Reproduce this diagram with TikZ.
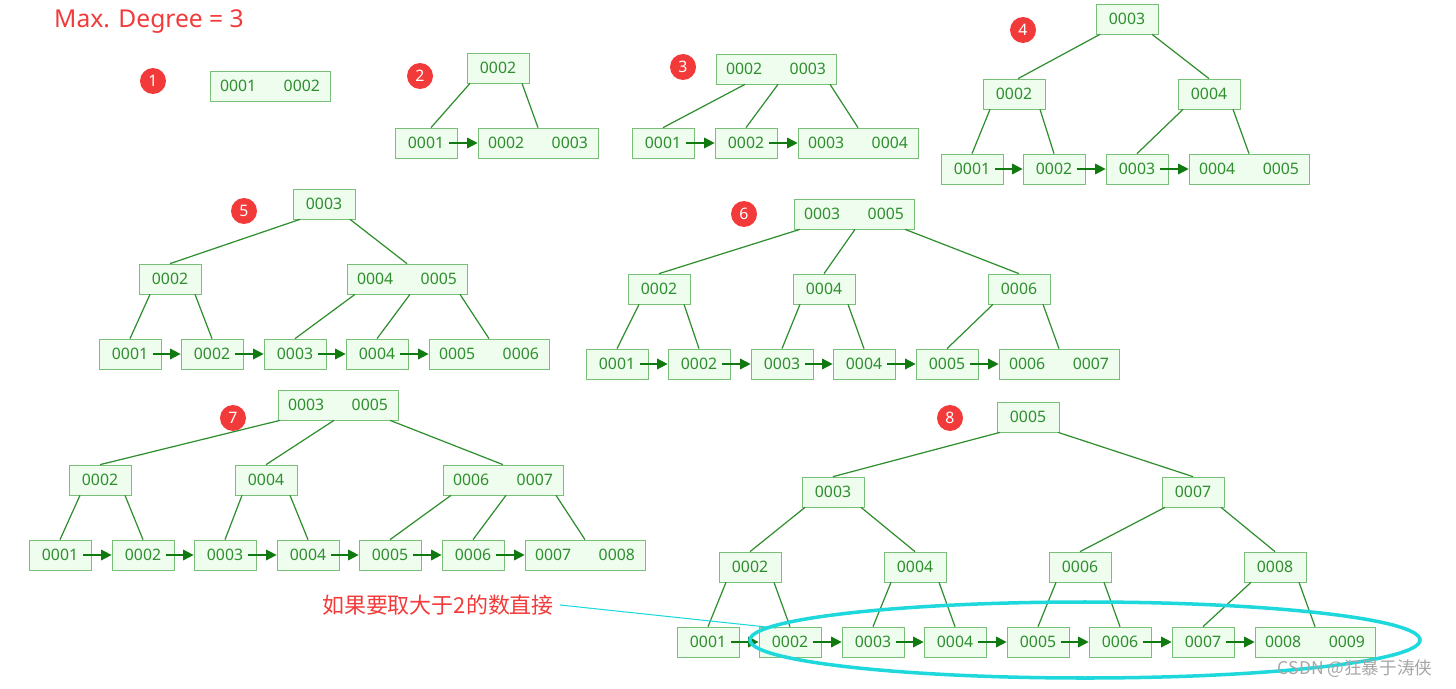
\documentclass[tikz,border=0pt]{standalone}
\usepackage{fontspec}
\setmainfont{Noto Sans}
\newfontfamily\cjk{Noto Sans CJK SC}
\usetikzlibrary{calc,arrows.meta}
\definecolor{kfill}{HTML}{EEFDEE}
\definecolor{kline}{HTML}{78C078}
\definecolor{ktext}{HTML}{2F8F2F}
\definecolor{karrow}{HTML}{107A10}
\definecolor{kred}{HTML}{F23A3A}
\definecolor{kcyan}{HTML}{1ED8DC}
\tikzset{
    kbox/.style={draw=kline, fill=kfill, text=ktext, minimum width=1.24cm,
        minimum height=0.6cm, inner sep=0pt, font=\fontsize{9}{10}\selectfont},
    kdbl/.style={kbox, minimum width=2.4cm},
    tie/.style={draw=ktext, line width=0.7pt},
    nxt/.style={draw=karrow, line width=0.9pt, -{Triangle[length=6pt,width=6pt]}},
    badge/.style={circle, fill=kred, text=white, minimum size=0.52cm, inner sep=0pt,
        font=\fontsize{9}{10}\selectfont},
}
\newcommand\pair[2]{#1\hspace{0.55cm}#2}
\begin{document}
\begin{tikzpicture}[x=0.02cm, y=-0.02cm]
    \useasboundingbox (0,0) rectangle (1456,689);
    \node[text=kred, anchor=west, font=\fontsize{14}{16}\selectfont] (title) at (48,22) {Max. Degree = 3};

    % 1
    \node[badge] (b1) at (153,81) {1};
    \node[kdbl] (t1) at (270,86) {\pair{0001}{0002}};

    % 2
    \node[badge] (b2) at (420,76) {2};
    \node[kbox] (t2r) at (498,68) {0002};
    \node[kbox] (t2a) at (426,143) {0001};
    \node[kdbl] (t2b) at (538,143) {\pair{0002}{0003}};
    \draw[tie] ($(t2r.south)+(-28,0)$) -- ($(t2a.north)+(5,0)$);
    \draw[tie] ($(t2r.south)+(24,0)$) -- (t2b.north);

    % 3
    \node[badge] (b3) at (683,67) {3};
    \node[kdbl] (t3r) at (776,69) {\pair{0002}{0003}};
    \node[kbox] (t3a) at (663,143) {0001};
    \node[kbox] (t3b) at (746,143) {0002};
    \node[kdbl] (t3c) at (858,143) {\pair{0003}{0004}};
    \draw[tie] ($(t3r.south)+(-31,0)$) -- (t3a.north);
    \draw[tie] ($(t3r.south)+(2,0)$) -- (t3b.north);
    \draw[tie] ($(t3r.south)+(54,0)$) -- (t3c.north);

    % 4
    \node[badge] (b4) at (1023,30) {4};
    \node[kbox] (t4r) at (1127,19) {0003};
    \node[kbox] (t4p) at (1014,94) {0002};
    \node[kbox] (t4q) at (1209,94) {0004};
    \node[kbox] (t4a) at (972,169) {0001};
    \node[kbox] (t4b) at (1054,169) {0002};
    \node[kbox] (t4c) at (1137,169) {0003};
    \node[kdbl] (t4d) at (1249,169) {\pair{0004}{0005}};
    \draw[tie] ($(t4r.south)+(-27,0)$) -- ($(t4p.north)+(4,0)$);
    \draw[tie] ($(t4r.south)+(25,0)$) -- (t4q.north);
    \draw[tie] ($(t4p.south)+(-24,0)$) -- (t4a.north);
    \draw[tie] ($(t4p.south)+(26,0)$) -- (t4b.north);
    \draw[tie] ($(t4q.south)+(-26,0)$) -- (t4c.north);
    \draw[tie] ($(t4q.south)+(24,0)$) -- (t4d.north);

    % 5
    \node[badge] (b5) at (244,211) {5};
    \node[kbox] (t5r) at (324,204) {0003};
    \node[kbox] (t5p) at (170,279) {0002};
    \node[kdbl] (t5q) at (407,279) {\pair{0004}{0005}};
    \node[kbox] (t5a) at (130,354) {0001};
    \node[kbox] (t5b) at (212,354) {0002};
    \node[kbox] (t5c) at (295,354) {0003};
    \node[kbox] (t5d) at (377,354) {0004};
    \node[kdbl] (t5e) at (489,354) {\pair{0005}{0006}};
    \draw[tie] ($(t5r.south)+(-24,0)$) -- (t5p.north);
    \draw[tie] ($(t5r.south)+(26,0)$) -- (t5q.north);
    \draw[tie] ($(t5p.south)+(-20,0)$) -- (t5a.north);
    \draw[tie] ($(t5p.south)+(25,0)$) -- (t5b.north);
    \draw[tie] ($(t5q.south)+(-52,0)$) -- (t5c.north);
    \draw[tie] ($(t5q.south)+(3,0)$) -- (t5d.north);
    \draw[tie] ($(t5q.south)+(53,0)$) -- (t5e.north);

    % 6
    \node[badge] (b6) at (744,214) {6};
    \node[kdbl] (t6r) at (854,214) {\pair{0003}{0005}};
    \node[kbox] (t6p) at (659,289) {0002};
    \node[kbox] (t6q) at (824,289) {0004};
    \node[kbox] (t6s) at (1019,289) {0006};
    \node[kbox] (t6a) at (617,364) {0001};
    \node[kbox] (t6b) at (699,364) {0002};
    \node[kbox] (t6c) at (782,364) {0003};
    \node[kbox] (t6d) at (864,364) {0004};
    \node[kbox] (t6e) at (947,364) {0005};
    \node[kdbl] (t6f) at (1059,364) {\pair{0006}{0007}};
    \draw[tie] ($(t6r.south)+(-54,0)$) -- (t6p.north);
    \draw[tie] ($(t6r.south)+(1,0)$) -- (t6q.north);
    \draw[tie] ($(t6r.south)+(51,0)$) -- (t6s.north);
    \draw[tie] ($(t6p.south)+(-20,0)$) -- (t6a.north);
    \draw[tie] ($(t6p.south)+(25,0)$) -- (t6b.north);
    \draw[tie] ($(t6q.south)+(-24,0)$) -- (t6c.north);
    \draw[tie] ($(t6q.south)+(24,0)$) -- (t6d.north);
    \draw[tie] ($(t6s.south)+(-26,0)$) -- (t6e.north);
    \draw[tie] ($(t6s.south)+(24,0)$) -- (t6f.north);

    % 7
    \node[kdbl] (t7r) at (338,405) {\pair{0003}{0005}};
    \node[badge] (b7) at (233,418) {7};
    \node[kbox] (t7p) at (100,480) {0002};
    \node[kbox] (t7q) at (266,480) {0004};
    \node[kdbl] (t7s) at (503,480) {\pair{0006}{0007}};
    \node[kbox] (t7a) at (60,555) {0001};
    \node[kbox] (t7b) at (143,555) {0002};
    \node[kbox] (t7c) at (225,555) {0003};
    \node[kbox] (t7d) at (308,555) {0004};
    \node[kbox] (t7e) at (390,555) {0005};
    \node[kbox] (t7f) at (473,555) {0006};
    \node[kdbl] (t7g) at (585,555) {\pair{0007}{0008}};
    \draw[tie] ($(t7r.south)+(-58,0)$) -- (t7p.north);
    \draw[tie] ($(t7r.south)+(-4,0)$) -- (t7q.north);
    \draw[tie] ($(t7r.south)+(52,0)$) -- (t7s.north);
    \draw[tie] ($(t7p.south)+(-20,0)$) -- (t7a.north);
    \draw[tie] ($(t7p.south)+(25,0)$) -- (t7b.north);
    \draw[tie] ($(t7q.south)+(-24,0)$) -- (t7c.north);
    \draw[tie] ($(t7q.south)+(24,0)$) -- (t7d.north);
    \draw[tie] ($(t7s.south)+(-52,0)$) -- (t7e.north);
    \draw[tie] ($(t7s.south)+(3,0)$) -- (t7f.north);
    \draw[tie] ($(t7s.south)+(53,0)$) -- (t7g.north);

    % 8
    \node[badge] (b8) at (950,418) {8};
    \node[kbox] (t8r) at (1028,417) {0005};
    \node[kbox] (t8p) at (833,492) {0003};
    \node[kbox] (t8q) at (1193,492) {0007};
    \node[kbox] (t8u) at (750,567) {0002};
    \node[kbox] (t8v) at (915,567) {0004};
    \node[kbox] (t8w) at (1080,567) {0006};
    \node[kbox] (t8x) at (1275,567) {0008};
    \node[kbox] (t8a) at (708,642) {0001};
    \node[kbox] (t8b) at (790,642) {0002};
    \node[kbox] (t8c) at (873,642) {0003};
    \node[kbox] (t8d) at (955,642) {0004};
    \node[kbox] (t8e) at (1038,642) {0005};
    \node[kbox] (t8f) at (1120,642) {0006};
    \node[kbox] (t8g) at (1203,642) {0007};
    \node[kdbl] (t8h) at (1315,642) {\pair{0008}{0009}};
    \draw[tie] ($(t8r.south)+(-28,0)$) -- (t8p.north);
    \draw[tie] ($(t8r.south)+(30,0)$) -- (t8q.north);
    \draw[tie] ($(t8p.south)+(-28,0)$) -- (t8u.north);
    \draw[tie] ($(t8p.south)+(28,0)$) -- (t8v.north);
    \draw[tie] ($(t8q.south)+(-28,0)$) -- (t8w.north);
    \draw[tie] ($(t8q.south)+(28,0)$) -- (t8x.north);
    \foreach \p/\l/\r in {t8u/t8a/t8b, t8v/t8c/t8d, t8w/t8e/t8f, t8x/t8g/t8h} {
        \draw[tie] ($(\p.south)+(-24,0)$) -- (\l.north);
        \draw[tie] ($(\p.south)+(24,0)$) -- (\r.north);
    }

    % leaf links
    \foreach \a/\b in {t2a/t2b, t3a/t3b, t3b/t3c, t4a/t4b, t4b/t4c, t4c/t4d,
        t5a/t5b, t5b/t5c, t5c/t5d, t5d/t5e, t6a/t6b, t6b/t6c, t6c/t6d, t6d/t6e, t6e/t6f,
        t7a/t7b, t7b/t7c, t7c/t7d, t7d/t7e, t7e/t7f, t7f/t7g,
        t8a/t8b, t8b/t8c, t8c/t8d, t8d/t8e, t8e/t8f, t8f/t8g, t8g/t8h}
        \draw[nxt] ($(\a.east)+(-8,0)$) -- (\b.west);

    % range scan note
    \node[text=kred, font=\cjk\fontsize{12.5}{14}\selectfont] (note) at (438,605) {如果要取大于2的数直接};
    \draw[kcyan, line width=2pt] (1085,640) ellipse[x radius=335, y radius=38];
    \coordinate (hit) at (776,628);
    \draw[kcyan, line width=0.6pt] (note.east) -- (hit);
    \node[text=gray!70, font=\cjk\fontsize{10}{12}\selectfont] (mark) at (1355,669) {CSDN @狂暴于涛侠};
\end{tikzpicture}
\end{document}
